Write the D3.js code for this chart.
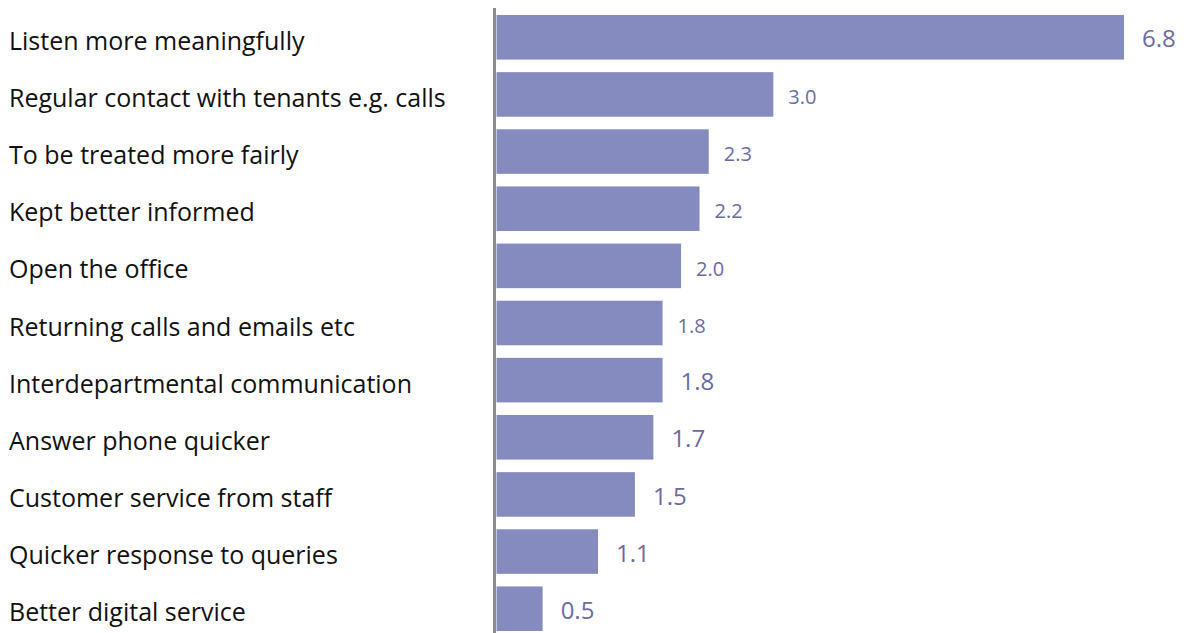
<!DOCTYPE html>
<html>
<head>
<meta charset="utf-8">
<script src="https://cdn.jsdelivr.net/npm/d3@7"></script>
<style>
  html, body { margin: 0; padding: 0; background: #ffffff; }
  svg { display: block; }
  text { font-family: "Open Sans", "Noto Sans", sans-serif; }
</style>
</head>
<body>
<svg id="chart" width="1184" height="633"></svg>
<script>
// Suggested improvements, average mentions
const categories = [
  "Listen more meaningfully",
  "Regular contact with tenants e.g. calls",
  "To be treated more fairly",
  "Kept better informed",
  "Open the office",
  "Returning calls and emails etc",
  "Interdepartmental communication",
  "Answer phone quicker",
  "Customer service from staff",
  "Quicker response to queries",
  "Better digital service"
];
const values = [6.8, 3.0, 2.3, 2.2, 2.0, 1.8, 1.8, 1.7, 1.5, 1.1, 0.5];
const valueLabels = ["6.8", "3.0", "2.3", "2.2", "2.0", "1.8", "1.8", "1.7", "1.5", "1.1", "0.5"];
// value labels come in two type sizes
const labelSize = ["large", "small", "small", "small", "small", "small", "large", "large", "large", "large", "large"];

const svg = d3.select("#chart");
const axisX = 494.5;
const barX0 = 496.5;

const x = d3.scaleLinear().domain([0, 6.8]).range([barX0, 1124]);
const y = d3.scaleBand()
  .domain(categories)
  .range([15, 631])
  .paddingInner(0.22)
  .paddingOuter(0);

const rows = categories.map((c, i) => ({
  cat: c, v: values[i], lab: valueLabels[i], size: labelSize[i]
}));

// bars
svg.append("g").selectAll("rect")
  .data(rows)
  .join("rect")
  .attr("x", barX0)
  .attr("y", d => y(d.cat))
  .attr("width", d => x(d.v) - barX0)
  .attr("height", y.bandwidth())
  .attr("fill", "#868bbf");

// vertical axis line
svg.append("line")
  .attr("x1", axisX).attr("x2", axisX)
  .attr("y1", 8).attr("y2", 633)
  .attr("stroke", "#8c8c8c")
  .attr("stroke-width", 3);

// category labels
svg.append("g").selectAll("text")
  .data(rows)
  .join("text")
  .attr("x", 9)
  .attr("y", d => y(d.cat) + y.bandwidth() / 2 + 12.5)
  .attr("font-size", 25)
  .attr("fill", "#111111")
  .text(d => d.cat);

// value labels
svg.append("g").selectAll("text")
  .data(rows)
  .join("text")
  .attr("x", d => x(d.v) + (d.size === "large" ? 18 : 15))
  .attr("y", d => y(d.cat) + y.bandwidth() / 2 + (d.size === "large" ? 1.5 : 2.5))
  .attr("dy", "0.36em")
  .attr("font-size", d => d.size === "large" ? 24 : 20)
  .attr("fill", "#6b6ba0")
  .text(d => d.lab);
</script>
</body>
</html>
